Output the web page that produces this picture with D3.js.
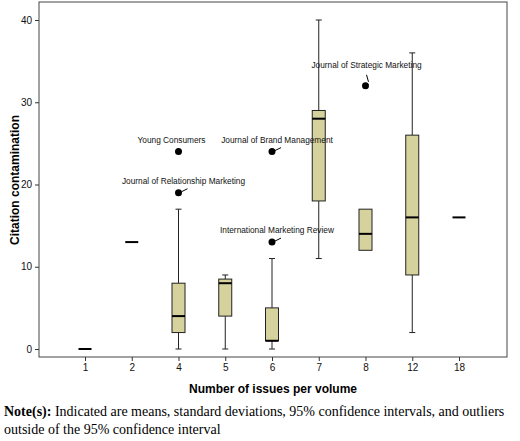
<!DOCTYPE html>
<html><head><meta charset="utf-8">
<script src="https://cdn.jsdelivr.net/npm/d3@7"></script>
<style>body{margin:0;background:#fff}</style></head>
<body><svg id="c" width="520" height="441"></svg>
<script>
const categories=["1","2","4","5","6","7","8","12","18"];
const mins=[0,13,0,0,0,11,12,2,16];
const q1s=[0,13,2,4,1,18,12,9,16];
const medians=[0,13,4,8,1,28,14,16,16];
const q3s=[0,13,8,8.5,5,29,17,26,16];
const maxs=[0,13,17,9,11,40,17,36,16];
const outlierCats=["4","4","6","6","8"];
const outlierVals=[24,19,24,13,32];
const outlierNames=["Young Consumers","Journal of Relationship Marketing","Journal of Brand Management","International Marketing Review","Journal of Strategic Marketing"];
const labelDy=[-14,-14,-14,-14,-18];
const yTicks=[0,10,20,30,40];

const svg=d3.select("#c");
const L=39,R=507,T=2,B=357;
const x=d3.scalePoint().domain(categories).range([85,459]);
const y=d3.scaleLinear().domain([0,40]).range([349,20]);
const fill="#d6d29d";
svg.append("rect").attr("x",L).attr("y",T).attr("width",R-L).attr("height",B-T).attr("fill","#fff").attr("stroke","#444").attr("stroke-width",1);
const ya=svg.append("g").attr("transform",`translate(${L},0)`).call(d3.axisLeft(y).tickValues(yTicks).tickSize(4));
const xa=svg.append("g").attr("transform",`translate(0,${B})`).call(d3.axisBottom(x).tickSize(4));
[ya,xa].forEach(a=>{a.select(".domain").remove();a.selectAll("text").attr("font-family","Arial, Liberation Sans").attr("font-size",10).attr("fill","#111");a.selectAll("line").attr("stroke","#333");});
const bw=13;
categories.forEach((c,i)=>{
  const cx=x(c);
  const g=svg.append("g");
  if(maxs[i]===mins[i]){
    g.append("line").attr("x1",cx-bw/2).attr("x2",cx+bw/2).attr("y1",y(medians[i])).attr("y2",y(medians[i])).attr("stroke","#000").attr("stroke-width",2);return;
  }
  if(maxs[i]>q3s[i]){g.append("line").attr("x1",cx).attr("x2",cx).attr("y1",y(maxs[i])).attr("y2",y(q3s[i])).attr("stroke","#222");
    g.append("line").attr("x1",cx-3).attr("x2",cx+3).attr("y1",y(maxs[i])).attr("y2",y(maxs[i])).attr("stroke","#222");}
  if(mins[i]<q1s[i]){g.append("line").attr("x1",cx).attr("x2",cx).attr("y1",y(q1s[i])).attr("y2",y(mins[i])).attr("stroke","#222");
    g.append("line").attr("x1",cx-3).attr("x2",cx+3).attr("y1",y(mins[i])).attr("y2",y(mins[i])).attr("stroke","#222");}
  g.append("rect").attr("x",cx-bw/2).attr("width",bw).attr("y",y(q3s[i])).attr("height",y(q1s[i])-y(q3s[i])).attr("fill",fill).attr("stroke","#222");
  g.append("line").attr("x1",cx-bw/2).attr("x2",cx+bw/2).attr("y1",y(medians[i])).attr("y2",y(medians[i])).attr("stroke","#000").attr("stroke-width",2);
});
outlierVals.forEach((v,i)=>{
  const cx=x(outlierCats[i]),cy=y(v);
  svg.append("circle").attr("cx",cx).attr("cy",cy).attr("r",3.5).attr("fill","#000");
  if(i!==0) svg.append("line").attr("x1",cx+3).attr("y1",i===4?cy-4:cy-1).attr("x2",i===4?cx+1:cx+9).attr("y2",i===4?cy-11:cy-4).attr("stroke","#000");
  svg.append("text").attr("x",i===0?cx-7:(i===4?cx+1:cx+5)).attr("y",cy+labelDy[i]+(i===4?0:5)).attr("text-anchor","middle")
   .attr("font-family","Arial, Liberation Sans").attr("font-size",8.3).attr("fill","#111").text(outlierNames[i]);
});
svg.append("text").attr("x",273).attr("y",393).attr("text-anchor","middle").attr("font-family","Arial, Liberation Sans").attr("font-weight","bold").attr("font-size",12).text("Number of issues per volume");
svg.append("text").attr("transform","translate(19,180) rotate(-90)").attr("text-anchor","middle").attr("font-family","Arial, Liberation Sans").attr("font-weight","bold").attr("font-size",12).text("Citation contamination");
const n=svg.append("text").attr("x",4).attr("y",416).attr("font-family","Liberation Serif, Times New Roman").attr("font-size",14);
n.append("tspan").attr("font-weight","bold").text("Note(s):");
n.append("tspan").text(" Indicated are means, standard deviations, 95% confidence intervals, and outliers");
svg.append("text").attr("x",4).attr("y",434).attr("font-family","Liberation Serif, Times New Roman").attr("font-size",14).text("outside of the 95% confidence interval");
</script></body></html>
